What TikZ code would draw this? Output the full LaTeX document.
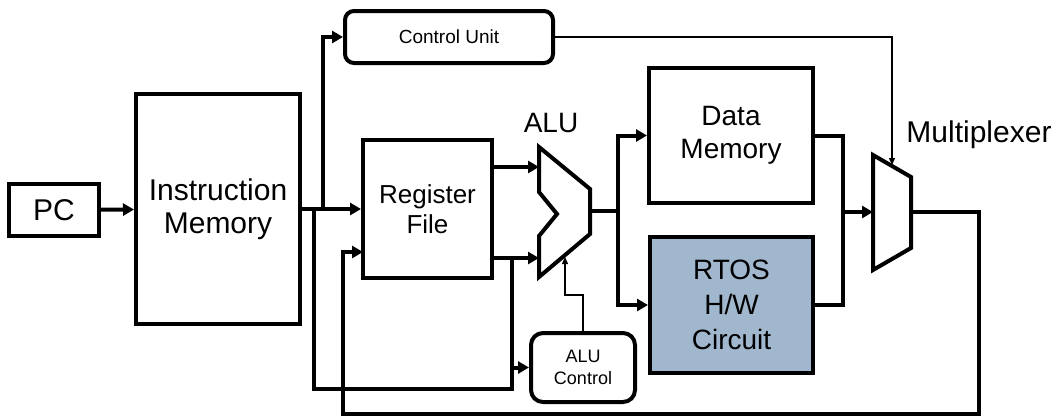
\documentclass[tikz,border=0pt]{standalone}
\usepackage{fontspec}
\setmainfont{Liberation Sans}
\usetikzlibrary{arrows.meta}
\definecolor{rtosfill}{RGB}{160,183,206}
\newcommand\bigtxt{\fontsize{28}{33}\selectfont}
\newcommand\hugetxt{\fontsize{30}{33}\selectfont}
\newcommand\rftxt{\fontsize{26}{30}\selectfont}
\newcommand\rtostxt{\fontsize{28}{35}\selectfont}
\newcommand\cutxt{\fontsize{19}{22}\selectfont}
\newcommand\smtxt{\fontsize{18}{22}\selectfont}
\begin{document}
\begin{tikzpicture}[x=1pt,y=-1pt,
  wire/.style={line width=4pt},
  arr/.style={wire,-{Triangle[length=11pt,width=12pt]}},
  thinwire/.style={line width=1.3pt},
  thinarr/.style={thinwire,-{Triangle[length=7pt,width=6pt]}},
  block/.style={draw,line width=4pt,inner sep=0pt,align=center,font=\bigtxt},
  label/.style={inner sep=0pt,font=\bigtxt}]
\useasboundingbox (0,0) rectangle (1057,418);

% functional blocks
\node[block,minimum width=90pt,minimum height=52pt,font=\hugetxt] (pc) at (54,210) {PC};
\node[block,minimum width=164pt,minimum height=230pt,font=\hugetxt] (im) at (218,209) {Instruction\\Memory};
\node[block,rounded corners=9pt,minimum width=208pt,minimum height=52pt,font=\cutxt] (cu) at (449,37) {Control Unit};
\node[block,minimum width=129pt,minimum height=138pt,font=\rftxt] (rf) at (427.5,209) {Register\\File};
\node[block,minimum width=164pt,minimum height=135pt] (dm) at (731,135.5) {Data\\Memory};
\node[block,fill=rtosfill,minimum width=163pt,minimum height=136pt,font=\rtostxt] (rtos) at (731.5,305) {RTOS\\H/W\\Circuit};
\node[block,rounded corners=12pt,minimum width=104pt,minimum height=69pt,font=\smtxt] (aluctl) at (583,367.5) {ALU\\Control};

% ALU and multiplexer outlines
\draw[wire,line join=miter] (539,147) -- (590,189) -- (590,234) -- (539,277) -- (539,236) -- (557,214) -- (539,192) -- cycle;
\draw[wire,line join=miter] (873,155) -- (911,177) -- (911,248) -- (873,270) -- cycle;
\node[label] (alulbl) at (551,123) {ALU};
\node[label,font=\hugetxt] (muxlbl) at (979,135) {Multiplexer};

% connection points
\coordinate (j1) at (323,209);
\coordinate (j2) at (314,209);
\coordinate (j3) at (512,389);
\coordinate (aluin1) at (539,167);
\coordinate (aluin2) at (539,258);
\coordinate (aluout) at (590,211);
\coordinate (j4) at (618,211);
\coordinate (j5) at (843,212);
\coordinate (muxin) at (873,212);
\coordinate (muxout) at (911,212);
\coordinate (muxsel) at (892,165);
\coordinate (fb1) at (979,414);
\coordinate (fb2) at (343,414);
\coordinate (rfin2) at (363,252);
\coordinate (ctlbend) at (565,295);
\coordinate (aluctlin) at (565,257);

% data paths
\draw[arr] (pc) -- (im);
\draw[arr] (im.east) -- (rf.west);
\draw[arr] (j1) |- (cu.west);
\draw[wire] (j2) |- (j3) -- (j3 |- aluin2);
\draw[arr] (j3 |- aluctl.west) -- (aluctl.west);
\draw[arr] (rf.east |- aluin1) -- (aluin1);
\draw[arr] (rf.east |- aluin2) -- (aluin2);
\draw[wire] (aluout) -- (j4);
\draw[arr] (j4) |- (dm.west);
\draw[arr] (j4) |- (rtos.west);
\draw[wire] (dm.east) -| (j5 |- rtos.east) -- (rtos.east);
\draw[arr] (j5) -- (muxin);
\draw[arr] (muxout) -| (fb1) -- (fb2) |- (rfin2);

% control signals
\draw[thinarr] (cu.east) -| (muxsel);
\draw[thinarr] (aluctl.north) |- (ctlbend) -- (aluctlin);
\end{tikzpicture}
\end{document}
